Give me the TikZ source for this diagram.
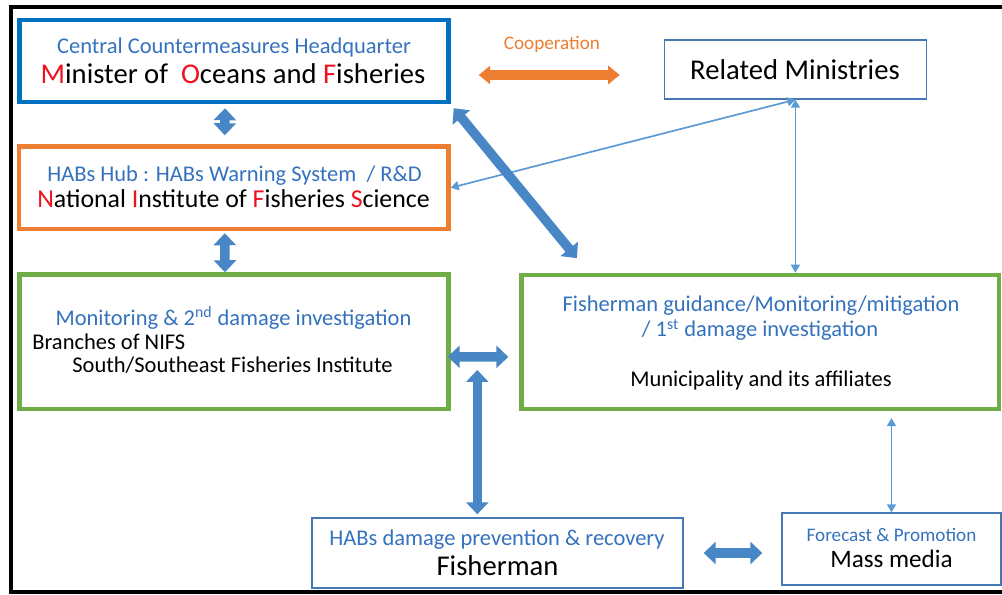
\documentclass[tikz,border=0pt]{standalone}
\usepackage{fontspec}
\setmainfont{Carlito}
\usetikzlibrary{arrows.meta,calc}

\definecolor{hqBlue}{RGB}{0,112,192}
\definecolor{labelBlue}{RGB}{52,114,190}
\definecolor{linkBlue}{RGB}{91,155,213}
\definecolor{fatBlue}{RGB}{72,134,198}
\definecolor{coopOrange}{RGB}{237,125,49}
\definecolor{boxGreen}{RGB}{112,173,71}
\definecolor{initRed}{RGB}{238,18,30}
\definecolor{thinFrame}{RGB}{70,120,180}

\newcommand{\ini}[1]{\textcolor{initRed}{#1}}

\tikzset{
  thickBox/.style={draw, line width=0.09cm, inner sep=0pt},
  thinBox/.style={draw=thinFrame, line width=0.028cm, inner sep=0pt},
  boxRole/.style={text=labelBlue, font=\fontsize{12.8}{15}\selectfont, inner sep=0pt},
  boxBody/.style={font=\fontsize{12.8}{15}\selectfont, inner sep=0pt},
  boxTitle/.style={font=\fontsize{16.3}{19}\selectfont, inner sep=0pt},
  fatLink/.style={draw=fatBlue, line width=0.19cm,
    {Triangle[width=0.44cm,length=0.24cm]}-{Triangle[width=0.44cm,length=0.24cm]}},
  thinLink/.style={draw=linkBlue, line width=0.034cm,
    {Triangle[width=0.18cm,length=0.16cm]}-{Triangle[width=0.18cm,length=0.16cm]}}
}

\begin{document}
\begin{tikzpicture}[x=0.02cm, y=-0.02cm]
  \useasboundingbox (0,0) rectangle (1002,595);
  \draw [line width=0.07cm] (11,7) rectangle (1012,592);

  % Government section: nodes
  \node [thickBox, draw=hqBlue, minimum width=8.58cm, minimum height=1.64cm]
    (hq) at (234,61) {};
  \node [thickBox, draw=coopOrange, minimum width=8.59cm, minimum height=1.65cm]
    (nifs) at (233.75,187.75) {};
  \node [thinBox, minimum width=5.24cm, minimum height=1.18cm]
    (rm) at (795.4,69.5) {};

  % Field section: nodes
  \node [thickBox, draw=boxGreen, minimum width=8.58cm, minimum height=2.69cm]
    (mon) at (234,341.75) {};
  \node [thickBox, draw=boxGreen, minimum width=9.55cm, minimum height=2.68cm]
    (mun) at (760.3,341.9) {};
  \node [thinBox, minimum width=7.42cm, minimum height=1.40cm]
    (fish) at (497.5,553) {};
  \node [thinBox, minimum width=4.38cm, minimum height=1.44cm]
    (mm) at (891.5,549) {};

  % Box texts
  \node [boxRole, anchor=base] (hqRole) at (234,53) %
  {Central Countermeasures Headquarter};
  \node [boxTitle, anchor=base] (hqName) at (233,83) %
  {\ini{M}inister of\ \ \ini{O}ceans and \ini{F}isheries};
  \node [boxRole, anchor=base] (nifsRole) at (234.5,181.5) %
  {HABs Hub : HABs Warning System\ \ / R\&D};
  \node [boxTitle, anchor=base, font=\fontsize{14.7}{17}\selectfont] (nifsName) at (233.5,207) %
  {\ini{N}ational \ini{I}nstitute of \ini{F}isheries \ini{S}cience};
  \node [boxTitle, anchor=base] (rmName) at (795,79) {Related Ministries};
  \node [boxRole, anchor=base, text=coopOrange, font=\fontsize{10.9}{13}\selectfont]
    (coop) at (552,49.5) {Cooperation};

  \node [boxRole, anchor=base] (monRole) at (233.5,325) %
  {Monitoring \& 2\textsuperscript{nd} damage investigation};
  \node [boxBody, anchor=base west] (monName) at (32,349.3) {Branches of NIFS};
  \node [boxBody, anchor=base west] (monSub) at (72,372.7) %
  {South/Southeast Fisheries Institute};
  \node [boxRole, anchor=base] (munRole) at (761,311.7) %
  {Fisherman guidance/Monitoring/mitigation};
  \node [boxRole, anchor=base] (munRoleB) at (760,336.7) %
  {/ 1\textsuperscript{st} damage investigation};
  \node [boxBody, anchor=base] (munName) at (761,386) %
  {Municipality and its affiliates};
  \node [boxRole, anchor=base] (fishRole) at (497,545) %
  {HABs damage prevention \& recovery};
  \node [boxTitle, anchor=base] (fishName) at (497.5,575) {Fisherman};
  \node [boxRole, anchor=base, font=\fontsize{10.9}{13}\selectfont]
    (mmRole) at (891.5,541.7) {Forecast \& Promotion};
  \node [boxTitle, anchor=base, font=\fontsize{14.3}{17}\selectfont]
    (mmName) at (891.5,567.3) {Mass media};

  % Government section: connections
  \draw [fatLink] ($(hq.south)+(-9,4)$) -- ($(nifs.north)+(-9,-9)$);
  \draw [fatLink] ($(nifs.south)+(-9,2)$) -- ($(mon.north)+(-9,0)$);
  \draw [fatLink, draw=coopOrange, line width=0.2cm,
    {Triangle[width=0.36cm,length=0.23cm]}-{Triangle[width=0.36cm,length=0.23cm]}]
    ($(hq.east)+(28,14)$) -- ($(rm.west)+(-44,5.5)$);
  \draw [thinLink] (rm.south) -- (nifs.east);
  \draw [thinLink] (rm.south) -- (rm.south |- mun.north);

  % Field section: connections
  \draw [fatLink] ($(hq.south east)+(3,4)$) -- ($(mun.north west)+(57.5,-14.5)$);
  \draw [fatLink] ($(mon.east)+(-3,15)$) -- ($(mun.west)+(-11,15)$);
  \coordinate (hub) at (477.3,370);
  \draw [fatLink] (hub) -- ($(hub |- fish.north)+(0,-3)$);
  \draw [fatLink] ($(fish.east)+(20,0)$) -- ($(mm.west |- fish.east)+(-19,0)$);
  \draw [thinLink, shorten >=0.14cm] (mm.north) -- (mm.north |- mun.south);
\end{tikzpicture}
\end{document}
